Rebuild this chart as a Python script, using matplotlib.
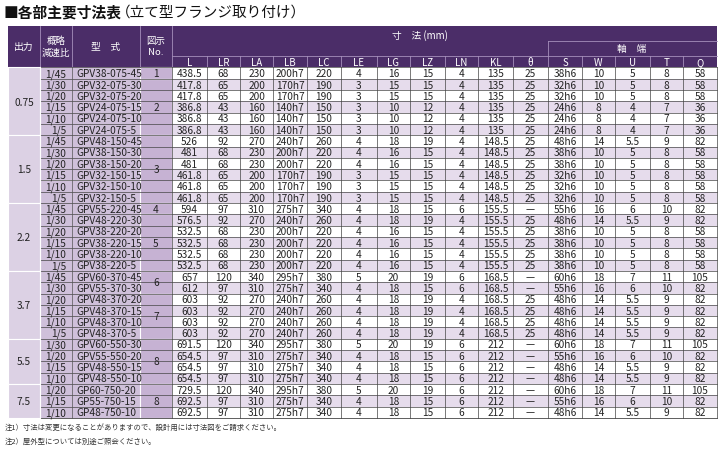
import matplotlib.pyplot as plt
from matplotlib.patches import Rectangle

plt.rcParams['font.family'] = ['Noto Sans CJK JP', 'DejaVu Sans']

# ---- data ----
output_kw = ['0.75', '1.5', '2.2', '3.7', '5.5', '7.5']
output_rows = [6, 6, 6, 6, 4, 3]

fig_no = ['1', '2', '3', '4', '5', '6', '7', '8', '8']
fig_rows = [1, 5, 6, 1, 5, 2, 4, 4, 3]

ratio = ['1/45', '1/30', '1/20', '1/15', '1/10', '1/5',
         '1/45', '1/30', '1/20', '1/15', '1/10', '1/5',
         '1/45', '1/30', '1/20', '1/15', '1/10', '1/5',
         '1/45', '1/30', '1/20', '1/15', '1/10', '1/5',
         '1/30', '1/20', '1/15', '1/10',
         '1/20', '1/15', '1/10']

model = ['GPV38-075-45', 'GPV32-075-30', 'GPV32-075-20', 'GPV24-075-15', 'GPV24-075-10', 'GPV24-075-5',
         'GPV48-150-45', 'GPV38-150-30', 'GPV38-150-20', 'GPV32-150-15', 'GPV32-150-10', 'GPV32-150-5',
         'GPV55-220-45', 'GPV48-220-30', 'GPV38-220-20', 'GPV38-220-15', 'GPV38-220-10', 'GPV38-220-5',
         'GPV60-370-45', 'GPV55-370-30', 'GPV48-370-20', 'GPV48-370-15', 'GPV48-370-10', 'GPV48-370-5',
         'GPV60-550-30', 'GPV55-550-20', 'GPV48-550-15', 'GPV48-550-10',
         'GP60-750-20', 'GP55-750-15', 'GP48-750-10']

L = ['438.5', '417.8', '417.8', '386.8', '386.8', '386.8', '526', '481', '481', '461.8', '461.8', '461.8',
     '594', '576.5', '532.5', '532.5', '532.5', '532.5', '657', '612', '603', '603', '603', '603',
     '691.5', '654.5', '654.5', '654.5', '729.5', '692.5', '692.5']
LR = [68, 65, 65, 43, 43, 43, 92, 68, 68, 65, 65, 65, 97, 92, 68, 68, 68, 68,
      120, 97, 92, 92, 92, 92, 120, 97, 97, 97, 120, 97, 97]
LA = [230, 200, 200, 160, 160, 160, 270, 230, 230, 200, 200, 200, 310, 270, 230, 230, 230, 230,
      340, 310, 270, 270, 270, 270, 340, 310, 310, 310, 340, 310, 310]
LB = ['200h7', '170h7', '170h7', '140h7', '140h7', '140h7', '240h7', '200h7', '200h7', '170h7', '170h7', '170h7',
      '275h7', '240h7', '200h7', '200h7', '200h7', '200h7', '295h7', '275h7', '240h7', '240h7', '240h7', '240h7',
      '295h7', '275h7', '275h7', '275h7', '295h7', '275h7', '275h7']
LC = [220, 190, 190, 150, 150, 150, 260, 220, 220, 190, 190, 190, 340, 260, 220, 220, 220, 220,
      380, 340, 260, 260, 260, 260, 380, 340, 340, 340, 380, 340, 340]
LE = [4, 3, 3, 3, 3, 3, 4, 4, 4, 3, 3, 3, 4, 4, 4, 4, 4, 4, 5, 4, 4, 4, 4, 4, 5, 4, 4, 4, 5, 4, 4]
LG = [16, 15, 15, 10, 10, 10, 18, 16, 16, 15, 15, 15, 18, 18, 16, 16, 16, 16,
      20, 18, 18, 18, 18, 18, 20, 18, 18, 18, 20, 18, 18]
LZ = [15, 15, 15, 12, 12, 12, 19, 15, 15, 15, 15, 15, 15, 19, 15, 15, 15, 15,
      19, 15, 19, 19, 19, 19, 19, 15, 15, 15, 19, 15, 15]
LN = [4, 4, 4, 4, 4, 4, 4, 4, 4, 4, 4, 4, 6, 4, 4, 4, 4, 4, 6, 6, 4, 4, 4, 4, 6, 6, 6, 6, 6, 6, 6]
KL = ['135'] * 6 + ['148.5'] * 6 + ['155.5'] * 6 + ['168.5'] * 6 + ['212'] * 7
theta = ['25'] * 12 + ['—', '25', '25', '25', '25', '25', '—', '—', '25', '25', '25', '25'] + ['—'] * 7
S = ['38h6', '32h6', '32h6', '24h6', '24h6', '24h6', '48h6', '38h6', '38h6', '32h6', '32h6', '32h6',
     '55h6', '48h6', '38h6', '38h6', '38h6', '38h6', '60h6', '55h6', '48h6', '48h6', '48h6', '48h6',
     '60h6', '55h6', '48h6', '48h6', '60h6', '55h6', '48h6']
W = [10, 10, 10, 8, 8, 8, 14, 10, 10, 10, 10, 10, 16, 14, 10, 10, 10, 10,
     18, 16, 14, 14, 14, 14, 18, 16, 14, 14, 18, 16, 14]
U = ['5', '5', '5', '4', '4', '4', '5.5', '5', '5', '5', '5', '5', '6', '5.5', '5', '5', '5', '5',
     '7', '6', '5.5', '5.5', '5.5', '5.5', '7', '6', '5.5', '5.5', '7', '6', '5.5']
T = [8, 8, 8, 7, 7, 7, 9, 8, 8, 8, 8, 8, 10, 9, 8, 8, 8, 8, 11, 10, 9, 9, 9, 9, 11, 10, 9, 9, 11, 10, 9]
Q = [58, 58, 58, 36, 36, 36, 82, 58, 58, 58, 58, 58, 82, 82, 58, 58, 58, 58,
     105, 82, 82, 82, 82, 82, 105, 82, 82, 82, 105, 82, 82]

col_labels = ['L', 'LR', 'LA', 'LB', 'LC', 'LE', 'LG', 'LZ', 'LN', 'KL', 'θ', 'S', 'W', 'U', 'T', 'Q']
columns = [L, LR, LA, LB, LC, LE, LG, LZ, LN, KL, theta, S, W, U, T, Q]

title = '■各部主要寸法表'
subtitle = '（立て型フランジ取り付け）'
notes = ['注1）寸法は変更になることがありますので、設計用には寸法図をご請求ください。',
         '注2）屋外型については別途ご照会ください。']

# ---- layout ----
left_edges = [8, 40, 72, 140, 172]
data_edges = [172, 207, 240, 273, 307, 341, 377, 410, 445, 478, 513, 548, 582, 615, 650, 683, 717]
head_top, label_top, body_top = 26, 56, 67.5
rh = 11.3
nrows = len(ratio)
dy = 1.1  # nudge text down to optical centre

purple = '#4b2d68'
hline = '#a58fbb'
band = '#e6dcec'
c_out = '#dcd1e4'
c_mid = '#cfc0da'
c_fig = '#c6b2d3'
txt = '#222222'
fs = 7.3

fig = plt.figure(figsize=(7.2, 4.65), dpi=100)
ax = fig.add_axes([0, 0, 1, 1])
ax.set_xlim(0, 720)
ax.set_ylim(465, 0)
ax.axis('off')

# title
ax.text(4, 13, title, fontsize=10.6, fontweight='bold', va='center', ha='left', color='#111111')
ax.text(116, 13, subtitle, fontsize=10.5, va='center', ha='left', color='#111111')

# header block
x0, x1 = left_edges[0], data_edges[-1]
ax.add_patch(Rectangle((x0, head_top), x1 - x0, body_top - head_top, color=purple, lw=0))
for x in left_edges[1:]:
    ax.plot([x, x], [head_top, body_top], color=hline, lw=0.6)
ax.plot([172, x1], [label_top, label_top], color=hline, lw=0.6)
ax.plot([548, x1], [41, 41], color=hline, lw=0.6)
ax.plot([548, 548], [41, label_top], color=hline, lw=0.6)
for x in data_edges[1:-1]:
    ax.plot([x, x], [label_top, body_top], color=hline, lw=0.6)

mid_head = (head_top + body_top) / 2 + 0.5
ax.text(24, mid_head, '出力', color='white', fontsize=7, ha='center', va='center')
ax.text(56, mid_head, '概略\n減速比', color='white', fontsize=6.8, ha='center', va='center', linespacing=1.3)
ax.text(106, mid_head, '型　式', color='white', fontsize=7, ha='center', va='center')
ax.text(156, mid_head, '図示\nNo.', color='white', fontsize=6.8, ha='center', va='center', linespacing=1.3)
ax.text(420, 36, '寸　法 (mm)', color='white', fontsize=7, ha='center', va='center')
ax.text(632, 49, '軸　端', color='white', fontsize=7, ha='center', va='center')
for j, lab in enumerate(col_labels):
    cx = (data_edges[j] + data_edges[j + 1]) / 2
    ax.text(cx, (label_top + body_top) / 2 + 1, lab, color='white', fontsize=7, ha='center', va='center')

# body rows
for i in range(nrows):
    y = body_top + i * rh
    fill = 'white' if i % 2 == 0 else band
    ax.add_patch(Rectangle((172, y), x1 - 172, rh, facecolor=fill, lw=0))
    ax.add_patch(Rectangle((40, y), 100, rh, facecolor=c_mid, lw=0))
    ax.plot([40, x1], [y, y], color='#444444', lw=0.5)
    for j, col in enumerate(columns):
        cx = (data_edges[j] + data_edges[j + 1]) / 2
        ax.text(cx, y + rh / 2 + dy, str(col[i]), fontsize=fs, ha='center', va='center', color=txt)
    ax.text(66, y + rh / 2 + dy, ratio[i], fontsize=fs, ha='right', va='center', color=txt)
    ax.text(76, y + rh / 2 + dy, model[i], fontsize=fs, ha='left', va='center', color=txt)
body_bot = body_top + nrows * rh
ax.plot([40, x1], [body_bot, body_bot], color='#444444', lw=0.6)

# grouped cells: output and figure number
start = 0
for kw, n in zip(output_kw, output_rows):
    y = body_top + start * rh
    ax.add_patch(Rectangle((8, y), 32, n * rh, facecolor=c_out, edgecolor='white', lw=0.8))
    ax.text(24, y + n * rh / 2 + dy, kw, fontsize=fs, ha='center', va='center', color=txt)
    start += n
start = 0
for no, n in zip(fig_no, fig_rows):
    y = body_top + start * rh
    ax.add_patch(Rectangle((140, y), 32, n * rh, facecolor=c_fig, edgecolor='white', lw=0.8))
    ax.text(156, y + n * rh / 2 + dy, no, fontsize=fs, ha='center', va='center', color=txt)
    start += n

# vertical rules
ax.plot([72, 72], [body_top, body_bot], color='#555555', lw=0.5)
for x in data_edges:
    ax.plot([x, x], [body_top, body_bot], color='#444444', lw=0.5)
ax.plot([40, 40], [body_top, body_bot], color='white', lw=0.8)

# notes
ax.text(5, 428, notes[0], fontsize=5.3, ha='left', va='center', color='#333333')
ax.text(5, 442, notes[1], fontsize=5.3, ha='left', va='center', color='#333333')

fig.savefig('out.png', dpi=100)
